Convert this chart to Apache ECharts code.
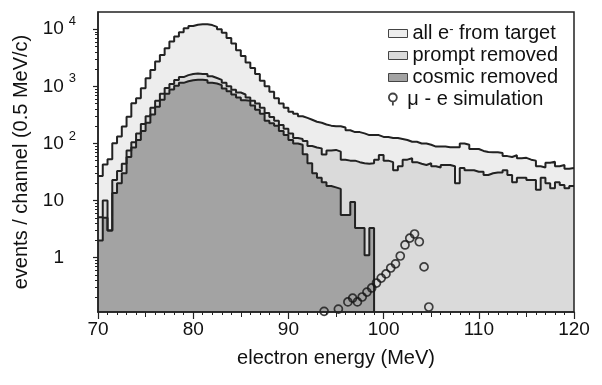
<!DOCTYPE html>
<html>
<head>
<meta charset="utf-8">
<script src="https://cdn.jsdelivr.net/npm/echarts@6/dist/echarts.min.js"></script>
<style>
html,body{margin:0;padding:0;background:#fff;}
#c{width:602px;height:385px;}
</style>
</head>
<body>
<div id="c"></div>
<script>
// ---- data ----
const binStart = 70;
const binWidth = 0.5;

const allElectrons = [
  27, 43, 53, 101, 132, 197, 294, 506, 620, 927,
  1390, 1940, 2710, 3550, 4650, 6070, 7420, 8850, 10400, 11400,
  12000, 12200, 12200, 11800, 11000, 10000, 8700, 7000, 5600, 4300,
  3400, 2600, 2100, 1650, 1250, 1000, 800, 620, 500, 420,
  360, 330, 300, 280, 260, 240, 230, 215, 205, 200,
  200, 190, 170, 158, 158, 150, 140, 140, 140, 130,
  130, 125, 125, 120, 115, 107, 107, 100, 100, 95,
  88, 88, 88, 86, 86, 86, 100, 95, 80, 80,
  74, 71, 70, 70, 68, 60, 58, 62, 55, 56,
  52, 50, 40, 38, 46, 48, 40, 42, 36, 37
];

const promptRemoved = [
  5.1, 10, 3.0, 23, 33, 44, 75, 105, 150, 220,
  300, 420, 560, 740, 930, 1100, 1290, 1450, 1570, 1640,
  1680, 1650, 1640, 1500, 1400, 1300, 1150, 1000, 870, 780,
  720, 640, 560, 500, 420, 340, 290, 250, 210, 180,
  150, 125, 120, 110, 90, 85, 82, 64, 75, 77,
  72, 52, 50, 50, 47, 45, 44, 45, 52, 63,
  50, 47, 34, 40, 52, 55, 47, 44, 42, 45,
  40, 38, 42, 42, 40, 20, 37, 34, 34, 32,
  32, 28, 30, 31, 31, 34, 28, 21, 25, 25,
  23, 23, 15.5, 25, 20, 16.5, 21, 18.7, 16.5, 18
];

const cosmicRemoved = [
  2.0, 5.0, 3.0, 13.5, 20, 30, 58, 85, 115, 165,
  230, 320, 440, 580, 740, 880, 1020, 1150, 1230, 1280,
  1300, 1300, 1280, 1150, 1120, 1050, 920, 820, 720, 640,
  570, 560, 460, 390, 330, 250, 225, 205, 165, 140,
  115, 100, 95, 65, 45, 30, 25, 21, 18, 17,
  16, 5.6, 5.6, 9.4, 3.3, 3.3, 1.1, 3.3
];

const simEnergy = [93.75, 95.25, 96.25, 96.75, 97.25, 97.75, 98.25, 98.75, 99.25, 99.75,
  100.25, 100.75, 101.25, 101.75, 102.25, 102.75, 103.25, 103.75, 104.25, 104.75];
const simCounts = [0.115, 0.126, 0.168, 0.196, 0.168, 0.205, 0.25, 0.295, 0.36, 0.44,
  0.52, 0.66, 0.78, 1.07, 1.67, 2.2, 2.6, 1.9, 0.69, 0.137];

const seriesNames = ['all e- from target', 'prompt removed', 'cosmic removed', 'μ - e simulation'];

const xMin = 70, xMax = 120;
const xTickValues = [70, 80, 90, 100, 110, 120];
const yMin = 0.112, yMax = 20000;
const yTickValues = [1, 10, 100, 1000, 10000];
const yTickBase = ['1', '10', '10', '10', '10'];
const yTickExp = ['', '', '2', '3', '4'];

// ---- helpers ----
function stepData(vals, closeToMin) {
  const d = vals.map((v, i) => [binStart + i * binWidth, v]);
  const endX = binStart + vals.length * binWidth;
  d.push([endX, vals[vals.length - 1]]);
  if (closeToMin) d.push([endX, yMin]);
  return d;
}
const yMinor = [];
for (let k = -1; k <= 4; k++) {
  for (let m = 2; m <= 9; m++) {
    const v = m * Math.pow(10, k);
    if (v > yMin && v < yMax) yMinor.push(v);
  }
}

const FONT = '"Liberation Sans", Arial, Helvetica, sans-serif';
const TXT = '#111111';
const LINE = '#222222';
const fills = ['#ededed', '#dadada', '#a3a3a3'];

const chart = echarts.init(document.getElementById('c'), null, {renderer: 'canvas'});

function histSeries(name, vals, fill, close) {
  return {
    name: name,
    type: 'line',
    step: 'end',
    data: stepData(vals, close),
    showSymbol: false,
    symbol: 'none',
    silent: true,
    itemStyle: {color: fill},
    lineStyle: {color: LINE, width: 2},
    areaStyle: {color: fill, opacity: 1, origin: 'start'},
    xAxisIndex: 0,
    yAxisIndex: 0
  };
}

const option = {
  animation: false,
  backgroundColor: '#ffffff',
  textStyle: {fontFamily: FONT, color: TXT},
  grid: {
    left: 98, right: 28, top: 12, bottom: 73,
    show: true, z: 10,
    backgroundColor: 'rgba(0,0,0,0)',
    borderColor: LINE, borderWidth: 1.5
  },
  legend: [
    {
      data: [
        {name: seriesNames[0], icon: 'rect', itemStyle: {color: fills[0], borderColor: '#444', borderWidth: 1}},
        {name: seriesNames[1], icon: 'rect', itemStyle: {color: fills[1], borderColor: '#444', borderWidth: 1}},
        {name: seriesNames[2], icon: 'rect', itemStyle: {color: fills[2], borderColor: '#444', borderWidth: 1}}
      ],
      orient: 'vertical',
      left: 383, top: 18,
      itemWidth: 19, itemHeight: 8, itemGap: 1,
      selectedMode: false,
      textStyle: {
        fontFamily: FONT, fontSize: 20, color: TXT, lineHeight: 21,
        rich: {
          t: {fontFamily: FONT, fontSize: 20, color: TXT, lineHeight: 21},
          s: {fontFamily: FONT, fontSize: 13, color: TXT, lineHeight: 10, verticalAlign: 'top'}
        }
      },
      formatter: function (name) {
        if (name === seriesNames[0]) return '{t|all e}{s|-}{t| from target}';
        return '{t|' + name + '}';
      }
    },
    {
      data: [
        {name: seriesNames[3], icon: 'path://M5,0.8A4.2,4.2,0,1,1,4.99,0.8ZM5,9.2L5,13.5',
         itemStyle: {color: 'rgba(0,0,0,0)', borderColor: '#111', borderWidth: 1.8}}
      ],
      orient: 'vertical',
      left: 383, top: 84,
      itemWidth: 19, itemHeight: 12,
      symbolKeepAspect: true,
      selectedMode: false,
      textStyle: {fontFamily: FONT, fontSize: 20, color: TXT, lineHeight: 21}
    }
  ],
  xAxis: [
    {
      type: 'value', min: xMin, max: xMax, interval: 10,
      position: 'bottom', z: 10,
      name: 'electron energy (MeV)', nameLocation: 'middle', nameGap: 36,
      nameTextStyle: {fontFamily: FONT, fontSize: 20, color: TXT},
      axisLine: {show: true, onZero: false, lineStyle: {color: LINE, width: 1.5}},
      axisTick: {show: true, length: 7, lineStyle: {color: LINE, width: 1.2}, customValues: xTickValues},
      minorTick: {show: true, splitNumber: 10, length: 3, lineStyle: {color: LINE, width: 1}},
      axisLabel: {fontFamily: FONT, fontSize: 19, color: TXT, margin: 8, customValues: xTickValues},
      splitLine: {show: false}
    },
    {
      type: 'value', min: xMin, max: xMax, interval: 5,
      position: 'bottom', z: 10,
      axisLine: {show: false},
      axisTick: {show: true, length: 5, lineStyle: {color: LINE, width: 1}},
      axisLabel: {show: false},
      splitLine: {show: false}
    }
  ],
  yAxis: [
    {
      type: 'log', min: yMin, max: yMax, logBase: 10,
      position: 'left', z: 10,
      name: 'events / channel (0.5 MeV/c)', nameLocation: 'middle', nameGap: 61,
      nameTextStyle: {fontFamily: FONT, fontSize: 20, color: TXT},
      axisLine: {show: true, onZero: false, lineStyle: {color: LINE, width: 1.5}},
      axisTick: {show: true, length: 5, lineStyle: {color: LINE, width: 1.2}, customValues: yTickValues},
      axisLabel: {
        customValues: yTickValues,
        margin: 22,
        fontFamily: FONT, fontSize: 19, color: TXT,
        formatter: function (v) {
          let idx = -1;
          for (let i = 0; i < yTickValues.length; i++) {
            if (Math.abs(Math.log10(v) - Math.log10(yTickValues[i])) < 1e-6) idx = i;
          }
          if (idx < 0) return '';
          if (yTickExp[idx]) return '{b|' + yTickBase[idx] + '}{e|' + yTickExp[idx] + '}';
          return '{p|' + yTickBase[idx] + '}';
        },
        rich: {
          b: {fontFamily: FONT, fontSize: 19, color: TXT, lineHeight: 28},
          e: {fontFamily: FONT, fontSize: 13, color: TXT, lineHeight: 14, verticalAlign: 'top', padding: [0, 0, 0, 5]},
          p: {fontFamily: FONT, fontSize: 19, color: TXT, lineHeight: 28, padding: [0, 12, 0, 0]}
        }
      },
      splitLine: {show: false}
    },
    {
      type: 'log', min: yMin, max: yMax, logBase: 10,
      position: 'left', z: 10,
      axisLine: {show: false},
      axisTick: {show: true, length: 3, lineStyle: {color: LINE, width: 1}, customValues: yMinor},
      axisLabel: {show: false},
      splitLine: {show: false}
    }
  ],
  series: [
    histSeries(seriesNames[0], allElectrons, fills[0], false),
    histSeries(seriesNames[1], promptRemoved, fills[1], false),
    histSeries(seriesNames[2], cosmicRemoved, fills[2], true),
    {
      name: seriesNames[3],
      type: 'scatter',
      data: simEnergy.map((e, i) => [e, simCounts[i]]),
      symbol: 'circle',
      symbolSize: 8,
      symbolKeepAspect: true,
      silent: true,
      itemStyle: {color: 'rgba(0,0,0,0)', borderColor: '#151515', borderWidth: 1.7},
      xAxisIndex: 0,
      yAxisIndex: 0,
      z: 5
    }
  ]
};
chart.setOption(option);
</script>
</body>
</html>
